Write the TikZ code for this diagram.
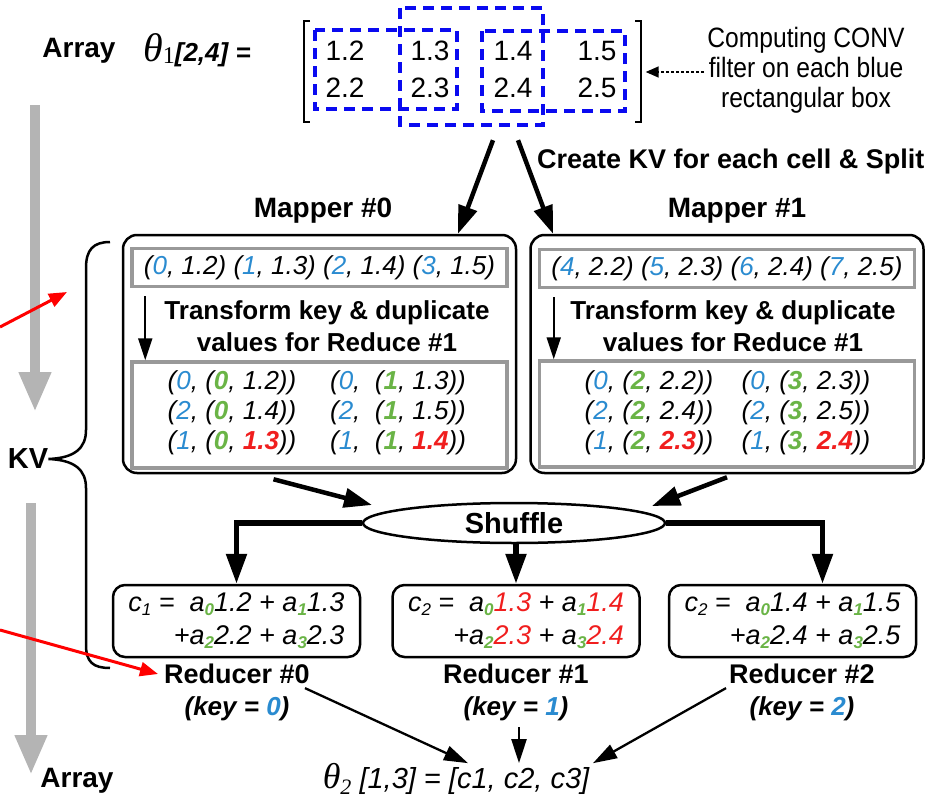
\documentclass[tikz,border=0pt]{standalone}
\usepackage{fontspec}
\setmainfont{Liberation Sans}
\newfontfamily\serifft{Liberation Serif}
\newfontfamily\narrowft[FakeStretch=0.88]{Liberation Sans}
\usetikzlibrary{arrows.meta,shapes.geometric,calc}
\definecolor{kblue}{HTML}{2A8BD0}
\definecolor{kgreen}{HTML}{6AB446}
\definecolor{kred}{HTML}{F01E1E}
\definecolor{dblue}{HTML}{0A0AF0}
\definecolor{lgray}{HTML}{B4B4B4}
\definecolor{bgray}{HTML}{999999}
\newcommand{\fz}[2]{\fontsize{#1}{#2}\selectfont}
\newcommand{\kb}[1]{\textcolor{kblue}{#1}}
\newcommand{\kg}[1]{\textcolor{kgreen}{\bfseries #1}}
\newcommand{\kr}[1]{\textcolor{kred}{\bfseries #1}}
\newcommand{\rr}[1]{\textcolor{kred}{#1}}
\newcommand{\sbg}[1]{\raisebox{-0.3ex}{\fz{17}{17}\textcolor{kgreen}{\bfseries #1}}}
\newcommand{\sbk}[1]{\raisebox{-0.3ex}{\fz{17}{17}#1}}
\tikzset{
  bigarrow/.style={line width=4.5pt, -{Triangle[length=28pt,width=19pt]}},
  shufline/.style={line width=5.5pt, -{Triangle[length=30pt,width=20pt]}},
  thinarrow/.style={line width=2.3pt, -{Triangle[length=24pt,width=15pt]}},
  rbox/.style={draw, line width=2.5pt, rounded corners=12pt, minimum width=247pt, minimum height=72pt},
  mbox/.style={draw, line width=2.5pt, rounded corners=14pt, minimum width=393pt, minimum height=238pt},
  gbox/.style={draw=bgray, line width=3.5pt},
  dbox/.style={draw=dblue, line width=3.5pt, dash pattern=on 11pt off 7pt},
  grayarrow/.style={draw=lgray, line width=10pt, -{Triangle[length=40pt,width=30pt]}},
  redarrow/.style={draw=red, line width=3pt, -{Triangle[length=18pt,width=14pt]}},
  lbl/.style={font=\fz{27}{32}\bfseries},
  kvt/.style={font=\fz{26}{30}\itshape, align=left},
  rtx/.style={font=\fz{27}{33}\itshape, align=right},
}
\begin{document}
\begin{tikzpicture}[x=1pt,y=-1pt, every node/.style={inner sep=0pt}]
\useasboundingbox (0,0) rectangle (930,803);

% ---- top: array theta1
\node[font=\fz{28}{32}\bfseries] (arr1) at (79,51) {Array};
\node[anchor=west] (th1) at (143,50) {{\fz{40}{40}\serifft\itshape θ}\raisebox{-0.45ex}{\fz{24}{24}\serifft 1}{\fz{26}{30}\bfseries\itshape [2,4] =}};

\node[minimum width=340pt, minimum height=102pt] (mat) at (472.5,71.5) {};
\draw[line width=2pt] (310,21) -- (304,21) -- (304,122) -- (310,122);
\draw[line width=2pt] (635,21) -- (641,21) -- (641,122) -- (635,122);
\begin{scope}[font=\fz{28}{32}]
\node (m11) at (345,51) {1.2};
\node (m12) at (430,51) {1.3};
\node (m13) at (513,51) {1.4};
\node (m14) at (597,51) {1.5};
\node (m21) at (345,88) {2.2};
\node (m22) at (430,88) {2.3};
\node (m23) at (513,88) {2.4};
\node (m24) at (597,88) {2.5};
\end{scope}
\draw[dbox] (315,30) rectangle (457,109);
\draw[dbox] (400,8) rectangle (543,125);
\draw[dbox] (482,31) rectangle (625,111);

\node[font=\narrowft\fz{28}{30}, align=center] (conv) at (806,70) {Computing CONV\\filter on each blue\\rectangular box};
\draw[line width=1.5pt, dash pattern=on 3pt off 2pt, -{Triangle[length=13pt,width=11pt]}] ($(conv.west)+(-3,2)$) -- ($(conv.west -| mat.east)+(3,2)$);

\node[lbl, anchor=west] (ckv) at (537,162) {Create KV for each cell \& Split};

% ---- mappers
\node[font=\fz{28}{32}\bfseries] (t0) at (323,211) {Mapper \#0};
\node[font=\fz{28}{32}\bfseries] (t1) at (737,211) {Mapper \#1};
\node[mbox] (map0) at (319.5,354) {};
\node[mbox] (map1) at (727,354) {};

\draw[bigarrow] ($(mat.south)+(20.5,17.5)$) -- ($(map0.north)+(138.5,0)$);
\draw[bigarrow] ($(mat.south)+(45.5,17.5)$) -- ($(map1.north)+(-174,0)$);

\node[gbox, minimum width=375pt, minimum height=38pt] (kv0) at (319.5,267.5) {};
\node[gbox, minimum width=375pt, minimum height=38pt] (kv1) at (727,268.5) {};
\node[font=\fz{26}{30}\itshape] (kt0) at (kv0.center) {(\kb{0}, 1.2) (\kb{1}, 1.3) (\kb{2}, 1.4) (\kb{3}, 1.5)};
\node[font=\fz{26}{30}\itshape] (kt1) at (kv1.center) {(\kb{4}, 2.2) (\kb{5}, 2.3) (\kb{6}, 2.4) (\kb{7}, 2.5)};

\node[font=\fz{26}{32}\bfseries, align=center] (tr0) at (327,326) {Transform key \& duplicate\\values for Reduce \#1};
\node[font=\fz{26}{32}\bfseries, align=center] (tr1) at (733,326) {Transform key \& duplicate\\values for Reduce \#1};

\node[gbox, minimum width=375pt, minimum height=106pt] (bx0) at (319.5,415) {};
\node[gbox, minimum width=375pt, minimum height=106pt] (bx1) at (727,414) {};
\draw[line width=2pt, -{Triangle[length=22pt,width=14pt]}] ($(kv0.south west)+(15,8)$) -- ($(bx0.north west)+(15,0)$);
\draw[line width=2pt, -{Triangle[length=22pt,width=14pt]}] ($(kv1.south west)+(16,8)$) -- ($(bx1.north west)+(16,0)$);

\node[kvt] (c01) at (232,413) {(\kb{0}, (\kg{0}, 1.2))\\(\kb{2}, (\kg{0}, 1.4))\\(\kb{1}, (\kg{0}, \kr{1.3}))};
\node[kvt] (c02) at (398,413) {(\kb{0},\ \ (\kg{1}, 1.3))\\(\kb{2},\ \ (\kg{1}, 1.5))\\(\kb{1},\ \ (\kg{1}, \kr{1.4}))};
\node[kvt] (c11) at (649,413) {(\kb{0}, (\kg{2}, 2.2))\\(\kb{2}, (\kg{2}, 2.4))\\(\kb{1}, (\kg{2}, \kr{2.3}))};
\node[kvt] (c12) at (806,413) {(\kb{0}, (\kg{3}, 2.3))\\(\kb{2}, (\kg{3}, 2.5))\\(\kb{1}, (\kg{3}, \kr{2.4}))};

% ---- shuffle
\node[draw, ellipse, line width=2.5pt, minimum width=302pt, minimum height=40pt, font=\fz{29}{32}\bfseries] (shuf) at (514,523) {Shuffle};
\draw[bigarrow] ($(map0.south)+(-46,5)$) -- ($(shuf.center)+(-142,-18)$);
\draw[bigarrow] ($(map1.south)+(0,3)$) -- ($(shuf.center)+(138,-17)$);

% ---- reducers
\node[rbox] (red0) at (236.5,621) {};
\node[rbox] (red1) at (516,621) {};
\node[rbox] (red2) at (792.5,621) {};
\node[rtx] (rt0) at (red0.center) {c\sbk{1} =\ \ a\sbg{0}1.2 + a\sbg{1}1.3\\+a\sbg{2}2.2 + a\sbg{3}2.3};
\node[rtx] (rt1) at (red1.center) {c\sbk{2} =\ \ a\sbg{0}\rr{1.3} + a\sbg{1}\rr{1.4}\\+a\sbg{2}\rr{2.3} + a\sbg{3}\rr{2.4}};
\node[rtx] (rt2) at (red2.center) {c\sbk{2} =\ \ a\sbg{0}1.4 + a\sbg{1}1.5\\+a\sbg{2}2.4 + a\sbg{3}2.5};

\draw[shufline] (shuf.west) -| (red0.north);
\draw[shufline] (shuf.south -| red1.north) -- (red1.north);
\draw[shufline] (shuf.east) -| ($(red2.north)+(30,0)$);

\node[lbl] (rl0) at (237,674) {Reducer \#0};
\node[lbl] (rl1) at (516,674) {Reducer \#1};
\node[lbl] (rl2) at (802,674) {Reducer \#2};
\node[font=\fz{26}{30}\bfseries\itshape] (k0) at (237,709) {(key = \kb{0})};
\node[font=\fz{26}{30}\bfseries\itshape] (k1) at (516,709) {(key = \kb{1})};
\node[font=\fz{26}{30}\bfseries\itshape] (k2) at (802,709) {(key = \kb{2})};

\node[font=\fz{29}{32}\itshape] (th2) at (456,779) {{\fz{36}{36}\serifft θ}\raisebox{-0.4ex}{\fz{22}{22}\serifft 2} [1,3] = [c1, c2, c3]};
\draw[thinarrow] ($(rl0.south east)+(-5,4)$) -- ($(th2.north)+(12,0)$);
\draw[thinarrow] (k1.south) ++(3,6) -- ($(th2.north)+(63,0)$);
\draw[thinarrow] ($(rl2.south west)+(-3,4)$) -- ($(th2.north)+(137,0)$);

% ---- left side
\node[font=\fz{28}{32}\bfseries] (arr2) at (77,781) {Array};
\node[font=\fz{29}{32}\bfseries] (kv) at (28,459) {KV};
\draw[grayarrow] (35,105) -- (35,412);
\draw[grayarrow] (31,503) -- (31,775);
\draw[line width=2.5pt] (110,242) .. controls (93,242) and (86,250) .. (86,268) -- (86,430) .. controls (86,448) and (75,458) .. (kv.east) .. controls (75,460) and (86,470) .. (86,488) -- (86,645) .. controls (86,662) and (93,668) .. (110,668);
\coordinate (ra1) at (0,327);
\coordinate (rb1) at (67,292);
\coordinate (ra2) at (0,630);
\draw[redarrow] (ra1) -- (rb1);
\draw[redarrow] (ra2) -- ($(rl0.west)+(-6,0)$);
\end{tikzpicture}
\end{document}
